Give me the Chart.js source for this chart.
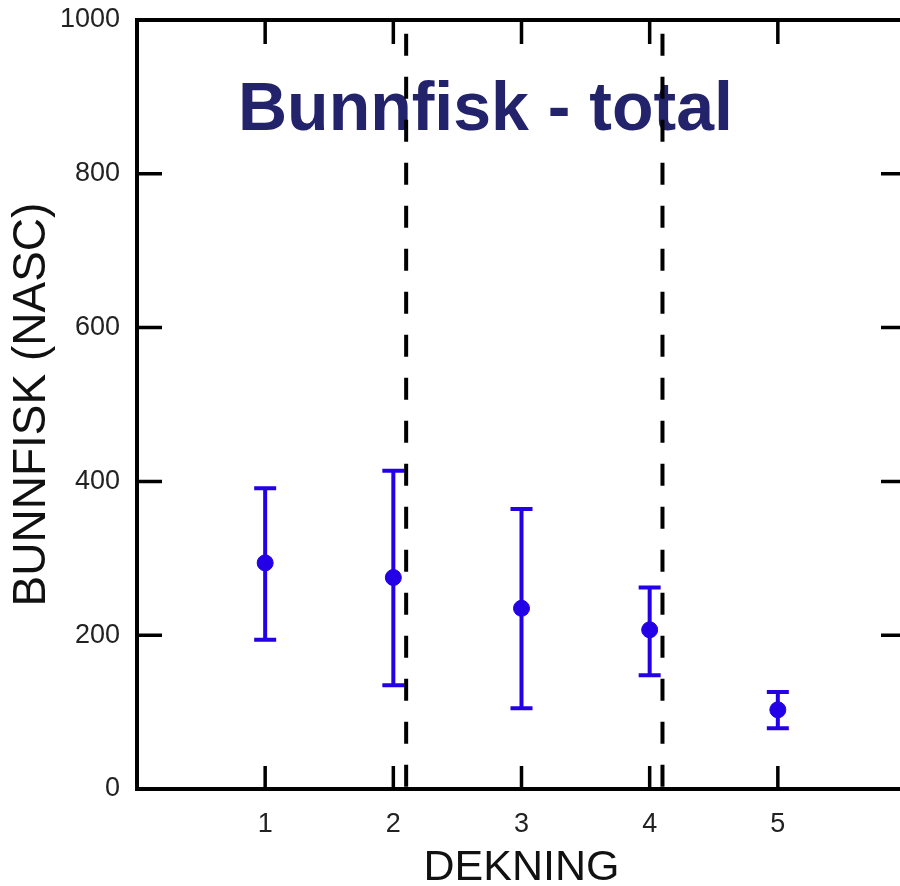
<!DOCTYPE html>
<html>
<head>
<meta charset="utf-8">
<script src="https://cdn.jsdelivr.net/npm/chart.js@4"></script>
<style>
  html, body { margin: 0; padding: 0; background: #fff; overflow: hidden; }
  #wrap { width: 920px; height: 886px; }
</style>
</head>
<body>
<div id="wrap"><canvas id="c"></canvas></div>
<script>
// values
const dekning = [1, 2, 3, 4, 5];
const meanNasc = [294, 275, 235, 207, 103];
const upperNasc = [391, 414, 364, 262, 126];
const lowerNasc = [194, 135, 105, 148, 79];
const dividers = [2.1, 4.1];
const xTicks = [1, 2, 3, 4, 5];
const yTicks = [200, 400, 600, 800];
const titleText = 'Bunnfisk - total';

let ctx = document.getElementById('c').getContext('2d');

let blue = 'rgb(36,0,230)';

// title (under the dashed lines) and error bars with caps, drawn under the points
const errorBars = {
	id: 'errorBars',
	beforeDatasetsDraw(chart) {
		let c = chart.ctx;
		let xs = chart.scales.x, ys = chart.scales.y;
		c.save();
		c.fillStyle = '#23236b';
		c.font = 'bold 68px "Liberation Sans", Arial, sans-serif';
		c.textAlign = 'left';
		c.textBaseline = 'alphabetic';
		c.fillText(titleText, 238, 130);

		c.strokeStyle = blue;
		c.lineWidth = 4;
		for (let i = 0; i < dekning.length; i++) {
			let px = xs.getPixelForValue(dekning[i]);
			let top = ys.getPixelForValue(upperNasc[i]);
			let bot = ys.getPixelForValue(lowerNasc[i]);
			c.beginPath();
			c.moveTo(px, top); c.lineTo(px, bot);
			c.moveTo(px - 11, top); c.lineTo(px + 11, top);
			c.moveTo(px - 11, bot); c.lineTo(px + 11, bot);
			c.stroke();
		}
		c.restore();
	}
};

// box frame with inward ticks
const frame = {
	id: 'frame',
	afterDraw(chart) {
		let c = chart.ctx;
		let a = chart.chartArea;
		let xs = chart.scales.x, ys = chart.scales.y;
		c.save();
		c.strokeStyle = '#000';
		c.lineWidth = 4;
		c.strokeRect(a.left, a.top, a.right - a.left, a.bottom - a.top);
		c.lineWidth = 3.5;
		c.beginPath();
		xTicks.forEach(v => {
			let px = xs.getPixelForValue(v);
			c.moveTo(px, a.bottom); c.lineTo(px, a.bottom - 23);
			c.moveTo(px, a.top); c.lineTo(px, a.top + 24);
		});
		yTicks.forEach(v => {
			let py = ys.getPixelForValue(v);
			c.moveTo(a.left, py); c.lineTo(a.left + 25, py);
			c.moveTo(a.right, py); c.lineTo(a.right - 25, py);
		});
		c.stroke();
		c.restore();
	}
};

let chart = new Chart(ctx, {
	type: 'scatter',
	data: {
		datasets: [
			{
				label: 'NASC',
				data: dekning.map((d, i) => ({ x: d, y: meanNasc[i] })),
				backgroundColor: blue,
				borderColor: blue,
				pointRadius: 8,
				pointHoverRadius: 8,
				order: 0
			},
			...dividers.map(d => ({
				label: 'skille',
				type: 'line',
				// top first so the dash pattern starts at the top like the original
				data: [{ x: d, y: 982 }, { x: d, y: 0 }],
				borderColor: '#000',
				borderWidth: 4,
				borderDash: [22, 21],
				pointRadius: 0,
				fill: false,
				order: 1
			}))
		]
	},
	options: {
		responsive: true,
		maintainAspectRatio: false,
		animation: false,
		events: [],
		layout: { padding: { top: 20, right: 14, left: 0, bottom: 0 } },
		plugins: {
			legend: { display: false },
			tooltip: { enabled: false }
		},
		scales: {
			x: {
				type: 'linear',
				min: 0,
				max: 6,
				grid: { display: false },
				border: { display: false },
				afterBuildTicks: s => { s.ticks = xTicks.map(v => ({ value: v })); },
				afterFit: s => { s.height = 97; s.paddingLeft = 0; s.paddingRight = 0; },
				ticks: {
					padding: 11,
					color: '#222',
					font: { family: '"Liberation Sans", Arial, sans-serif', size: 27 },
					maxRotation: 0,
					autoSkip: false
				},
				title: {
					display: true,
					text: 'DEKNING',
					color: '#111',
					font: { family: '"Liberation Sans", Arial, sans-serif', size: 43 },
					padding: { top: 0, bottom: -8 }
				}
			},
			y: {
				min: 0,
				max: 1000,
				grid: { display: false },
				border: { display: false },
				afterBuildTicks: s => { s.ticks = [0, ...yTicks, 1000].map(v => ({ value: v })); },
				afterFit: s => { s.width = 137; s.paddingTop = 0; s.paddingBottom = 0; },
				ticks: {
					padding: 9,
					color: '#222',
					font: { family: '"Liberation Sans", Arial, sans-serif', size: 27 },
					callback: v => String(v)
				},
				title: {
					display: true,
					text: 'BUNNFISK (NASC)',
					color: '#111',
					font: { family: '"Liberation Sans", Arial, sans-serif', size: 46 },
					padding: { top: 5, bottom: 0 }
				}
			}
		}
	},
	plugins: [errorBars, frame]
});
</script>
</body>
</html>
